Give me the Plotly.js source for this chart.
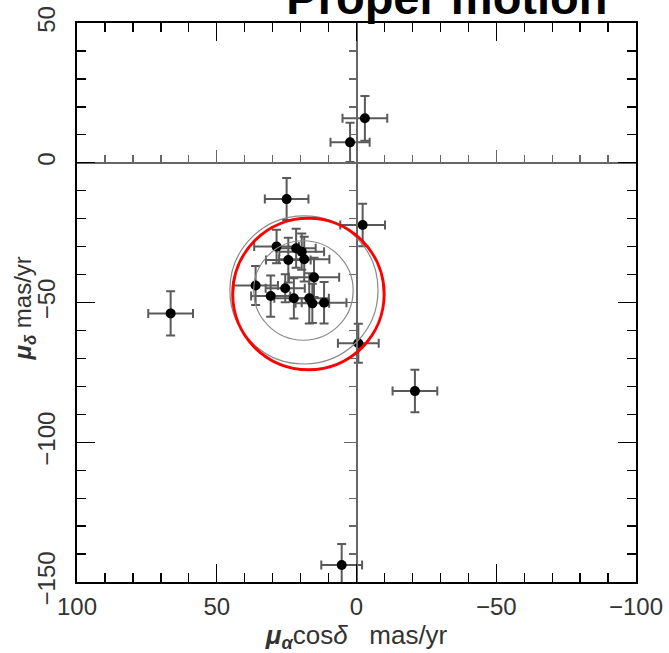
<!DOCTYPE html>
<html>
<head>
<meta charset="utf-8">
<script src="https://cdn.plot.ly/plotly-3.0.1.min.js"></script>
<style>html,body{margin:0;padding:0;background:#fff;}#chart{width:669px;height:653px;}</style>
</head>
<body>
<div id="chart"></div>
<script>
// Proper motion measurements (mas/yr)
const pmRA   = [2.3, -3.0, 25.0, -2.2, 28.6, 21.6, 19.6, 24.4, 18.7, 15.2, 36.1, 25.5, 30.7, 22.4, 16.9, 15.8, 11.6, -0.65, 66.5, -20.9, 5.3];
const pmDec  = [7.3, 15.9, -13.0, -22.3, -30.0, -30.6, -31.8, -34.8, -34.5, -41.0, -43.9, -44.9, -47.7, -48.5, -48.5, -50.3, -50.1, -64.6, -53.9, -81.7, -143.9];
const errRA  = [7, 8, 7.8, 8, 8, 7, 8, 8, 9, 9, 8, 7, 7, 7, 7, 6, 8, 7.3, 8, 8, 7.3];
const errDec = [7, 8, 7.5, 7.6, 6, 7, 6.5, 8, 8, 7, 7, 5, 7.4, 7.2, 9, 7, 7.4, 7, 7.9, 7.6, 7.5];

// Circles (centre and radius, mas/yr)
const circleCx = [18.8, 19.0, 17.2];
const circleCy = [-45.5, -45.7, -47.0];
const circleR  = [26.5, 17.8, 27.1];
const circleColor = ['#8a8a8a', '#8a8a8a', '#ff0000'];
const circleWidth = [1.2, 1.2, 3];

const xTickVals = [100, 50, 0, -50, -100];
const yTickVals = [50, 0, -50, -100, -150];

const FONT = 'Liberation Sans, Arial, sans-serif';

const traces = [
  {
    type: 'scatter', mode: 'markers',
    x: pmRA, y: pmDec,
    marker: {color: '#000', size: 10},
    error_x: {type: 'data', array: errRA, visible: true, color: '#5a5a5a', thickness: 2, width: 4.5},
    error_y: {type: 'data', array: errDec, visible: true, color: '#5a5a5a', thickness: 2, width: 4.5},
    showlegend: false, hoverinfo: 'x+y'
  },
  {type: 'scatter', x: [], y: [], xaxis: 'x2', yaxis: 'y2', showlegend: false}
];

const shapes = circleCx.map((cx, i) => ({
  type: 'circle', xref: 'x', yref: 'y',
  x0: cx - circleR[i], x1: cx + circleR[i],
  y0: circleCy[i] - circleR[i], y1: circleCy[i] + circleR[i],
  line: {color: circleColor[i], width: circleWidth[i]},
  layer: 'above'
}));

const frameAxis = {
  showline: true, linecolor: '#000', linewidth: 2, mirror: 'allticks',
  ticks: 'inside', ticklen: 18, tickwidth: 1.3, tickcolor: '#000',
  minor: {ticks: 'inside', dtick: 10, ticklen: 9, tickwidth: 1.3, tickcolor: '#000', showgrid: false},
  showgrid: false, zeroline: false,
  tickfont: {family: FONT, size: 24, color: '#333'}
};

const layout = {
  width: 669, height: 653,
  margin: {l: 77, r: 33, t: 23, b: 71, autoexpand: false},
  paper_bgcolor: '#fff', plot_bgcolor: '#fff',
  title: {
    text: '<b>Proper motion</b>',
    font: {family: FONT, size: 47, color: '#000'},
    x: 0.668, xanchor: 'center', xref: 'container',
    y: 0.979, yanchor: 'bottom', yref: 'container'
  },
  xaxis: Object.assign({}, frameAxis, {
    range: [100, -100], tickvals: xTickVals, ticktext: xTickVals.map(v => v < 0 ? '\u2212' + Math.abs(v) : String(v)),
    ticklabelstandoff: 2,
    title: {text: '<b><i>\u03bc</i></b><sub><b><i>\u03b1</i></b></sub>cos<i>\u03b4</i>&nbsp;&nbsp;&nbsp;mas/yr',
            font: {family: FONT, size: 26, color: '#333'}, standoff: 9}
  }),
  yaxis: Object.assign({}, frameAxis, {
    range: [-150, 50], tickvals: yTickVals, ticktext: yTickVals.map(v => v < 0 ? '\u2212' + Math.abs(v) : String(v)),
    tickangle: -90, ticklabelstandoff: 10
  }),
  xaxis2: {
    overlaying: 'x', anchor: 'free', position: 0.75, side: 'bottom',
    range: [100, -100], dtick: 50, tick0: 0,
    showline: true, linecolor: '#666', linewidth: 2,
    ticks: 'inside', ticklen: 12, tickwidth: 1.3, tickcolor: '#666',
    minor: {ticks: 'inside', dtick: 10, ticklen: 7, tickwidth: 1.3, tickcolor: '#666', showgrid: false},
    showticklabels: false, showgrid: false, zeroline: false
  },
  yaxis2: {
    overlaying: 'y', anchor: 'free', position: 0.5, side: 'right',
    range: [-150, 50], dtick: 50, tick0: 0,
    showline: true, linecolor: '#666', linewidth: 2,
    ticks: 'inside', ticklen: 12, tickwidth: 1.3, tickcolor: '#666',
    minor: {ticks: 'inside', dtick: 10, ticklen: 7, tickwidth: 1.3, tickcolor: '#666', showgrid: false},
    showticklabels: false, showgrid: false, zeroline: false
  },
  shapes: shapes,
  annotations: [{
    text: '<b><i>\u03bc</i></b><sub><b><i>\u03b4</i></b></sub>&nbsp;mas/yr',
    xref: 'paper', yref: 'paper', x: -0.094, y: 0.49,
    xanchor: 'center', yanchor: 'middle', textangle: -90, showarrow: false,
    font: {family: FONT, size: 24, color: '#333'}
  }]
};

Plotly.newPlot('chart', traces, layout, {displayModeBar: false, staticPlot: true});
</script>
</body>
</html>
